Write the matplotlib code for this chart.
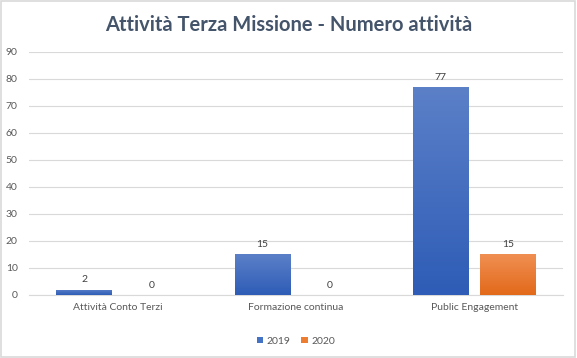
import matplotlib.pyplot as plt
import numpy as np
from matplotlib.colors import LinearSegmentedColormap
from matplotlib.patches import Rectangle

plt.rcParams['font.family'] = ['Lato', 'DejaVu Sans']

categories = ['Attività Conto Terzi', 'Formazione continua', 'Public Engagement']
series_names = ['2019', '2020']
vals_2019 = [2, 15, 77]
vals_2020 = [0, 0, 15]
yticks = list(range(0, 100, 10))

fig = plt.figure(figsize=(5.77, 3.58), dpi=100)
ax = fig.add_axes([0.050, 0.176, 0.926, 0.679])

x = np.arange(len(categories))
w = 0.31
off = 0.19

cmaps = [LinearSegmentedColormap.from_list('b', ['#2E5CB6', '#5B80C8']),
         LinearSegmentedColormap.from_list('o', ['#E2691A', '#F08F52'])]
solid = ['#4472C4', '#ED7D31']

grad = np.linspace(0, 1, 100).reshape(-1, 1)
for k, vals in enumerate([vals_2019, vals_2020]):
    bars = ax.bar(x + (k * 2 - 1) * off, vals, w, color=solid[k], label=series_names[k], zorder=2)
    for b, v in zip(bars, vals):
        if v > 0:
            bx, by = b.get_x(), b.get_y()
            im = ax.imshow(grad, cmap=cmaps[k], aspect='auto', origin='lower',
                           extent=[bx, bx + b.get_width(), by, by + b.get_height()], zorder=3)
            im.set_clip_path(b)
        ax.text(b.get_x() + b.get_width() / 2, v + 2, str(v), ha='center', va='bottom',
                fontsize=7.5, color='#404040', zorder=4)

ax.set_xlim(-0.5, len(categories) - 0.5)
ax.set_ylim(0, 90)
ax.set_yticks(yticks)
ax.set_xticks(x)
ax.set_xticklabels(categories)
ax.tick_params(axis='both', length=0, labelsize=7.5, labelcolor='#595959')
ax.tick_params(axis='x', pad=6)
ax.tick_params(axis='y', pad=8)
ax.grid(axis='y', color='#D9D9D9', linewidth=0.8, zorder=0)
for s in ['top', 'right', 'left']:
    ax.spines[s].set_visible(False)
ax.spines['bottom'].set_color('#D9D9D9')
ax.spines['bottom'].set_linewidth(0.8)

leg = ax.legend(loc='center', bbox_to_anchor=(0.5, -0.19), ncol=2, frameon=False,
                fontsize=7.5, handlelength=0.6, handleheight=0.6, handletextpad=0.4,
                columnspacing=1.0)
for t in leg.get_texts():
    t.set_color('#595959')

fig.text(0.5, 0.93, 'Attività Terza Missione - Numero attività', ha='center', va='center',
         fontsize=14.5, fontweight='bold', color='#44546A')

fig.patches.append(Rectangle((0.002, 0.003), 0.995, 0.993, transform=fig.transFigure,
                             fill=False, edgecolor='#D9D9D9', linewidth=1.2))

fig.savefig('out.png', dpi=100)
